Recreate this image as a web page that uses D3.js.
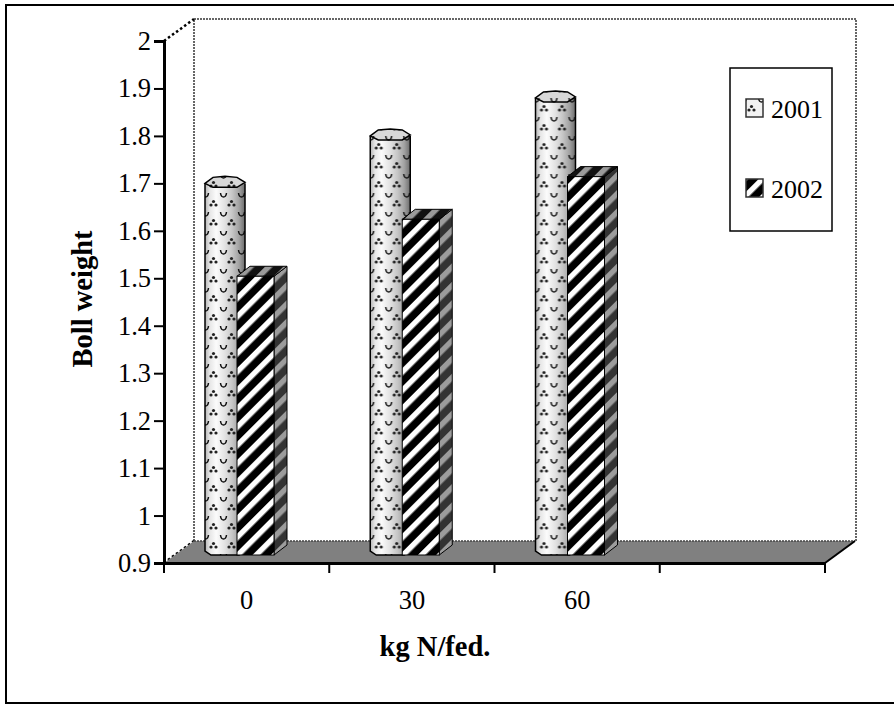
<!DOCTYPE html>
<html>
<head>
<meta charset="utf-8">
<script src="https://cdn.jsdelivr.net/npm/d3@7"></script>
<style>
  body { margin: 0; background: #fff; }
  svg { display: block; }
  text { font-family: "Liberation Serif", serif; fill: #000; }
</style>
</head>
<body>
<svg id="chart" width="894" height="704"></svg>
<script>
// Values
const categories = ["0", "30", "60", ""];
const years = ["2001", "2002"];
const values2001 = [1.70, 1.80, 1.88];
const values2002 = [1.50, 1.62, 1.71];
const yTicks = [0.9, 1, 1.1, 1.2, 1.3, 1.4, 1.5, 1.6, 1.7, 1.8, 1.9, 2];

const svg = d3.select("#chart");

// Plot box
const plotLeft = 164, plotRight = 825, plotTop = 41, plotBottom = 563;
const depthX = 30, depthY = 22;
const barLift = 8; // bars stand a little way back on the floor

const x = d3.scaleBand().domain(categories).range([plotLeft, plotRight]);
const xInner = d3.scaleBand().domain(years).range([41, 105]);
const y = d3.scaleLinear().domain([0.9, 2]).range([plotBottom, plotTop]);

const defs = svg.append("defs");

// Diagonal stripes for 2002
function stripes(id, dark, light, size) {
  const p = defs.append("pattern")
    .attr("id", id)
    .attr("patternUnits", "userSpaceOnUse")
    .attr("width", size)
    .attr("height", size)
    .attr("patternTransform", "rotate(45)");
  p.append("rect").attr("width", size).attr("height", size).attr("fill", dark);
  p.append("rect").attr("width", size * 0.42).attr("height", size).attr("fill", light);
}
stripes("stripeFront", "#000", "#fff", 13);
stripes("stripeTop", "#111", "#9a9a9a", 13);
stripes("stripeSide", "#333", "#9c9c9c", 13);

// Little marks for 2001: a cup shape and a three dot cluster
const dots = defs.append("pattern")
  .attr("id", "dots")
  .attr("patternUnits", "userSpaceOnUse")
  .attr("width", 18)
  .attr("height", 19);
dots.append("path")
  .attr("d", "M2.5,3 q0.5,4 3,4 q2.5,0 3,-4")
  .attr("fill", "none")
  .attr("stroke", "#111")
  .attr("stroke-width", 1.5);
[[13.5, 11.5], [11, 15], [16, 15]].forEach((c) => {
  dots.append("circle").attr("cx", c[0]).attr("cy", c[1]).attr("r", 1.6).attr("fill", "#222");
});

// Shading across the cylinder
const shade = defs.append("linearGradient").attr("id", "cylShade");
[[0, "#b5b5b5"], [0.12, "#e6e6e6"], [0.28, "#fbfbfb"], [0.5, "#e2e2e2"],
 [0.68, "#c6c6c6"], [0.85, "#a2a2a2"], [1, "#6c6c6c"]].forEach((s) => {
  shade.append("stop").attr("offset", s[0]).attr("stop-color", s[1]);
});

// Outer frame: the right side is cut off in the picture
svg.append("path")
  .attr("d", "M894,5H6V703H894")
  .attr("fill", "none")
  .attr("stroke", "#000")
  .attr("stroke-width", 2);

// Back wall
svg.append("path")
  .attr("d", `M${plotLeft + depthX},${plotBottom - depthY}V${plotTop - depthY}H${plotRight + depthX + 1}V${plotBottom - depthY}`)
  .attr("fill", "none")
  .attr("stroke", "#666")
  .attr("stroke-width", 2)
  .attr("stroke-dasharray", "2 1");

// Side wall edges
[plotTop, plotBottom].forEach((edgeY) => {
  svg.append("path")
    .attr("d", `M${plotLeft},${edgeY}L${plotLeft + depthX},${edgeY - depthY}`)
    .attr("fill", "none")
    .attr("stroke", "#000")
    .attr("stroke-width", 2.5)
    .attr("stroke-dasharray", "2.5 2.5");
});

// Floor
svg.append("path")
  .attr("d", `M${plotLeft},${plotBottom}L${plotLeft + depthX},${plotBottom - depthY}H${plotRight + depthX}L${plotRight},${plotBottom}Z`)
  .attr("fill", "#808080");
svg.append("path")
  .attr("d", `M${plotLeft + depthX},${plotBottom - depthY}H${plotRight + depthX}`)
  .attr("fill", "none")
  .attr("stroke", "#444")
  .attr("stroke-width", 1.5)
  .attr("stroke-dasharray", "2 1");
svg.append("path")
  .attr("d", `M${plotRight + depthX},${plotBottom - depthY}L${plotRight},${plotBottom}`)
  .attr("fill", "none")
  .attr("stroke", "#000")
  .attr("stroke-width", 2);

// Cylinder for one 2001 value
function drawCylinder(g, xPos, value, w) {
  const yBase = plotBottom - barLift;
  const yTop = y(value);
  const cx = xPos + w / 2;
  const body = `M${xPos},${yTop}V${yBase - 4}L${xPos + 6},${yBase}H${xPos + w - 6}L${xPos + w},${yBase - 4}V${yTop}`;
  const cap = `M${xPos},${yTop}L${xPos + 8},${yTop - 6}L${cx},${yTop - 7}L${xPos + w - 8},${yTop - 6}L${xPos + w},${yTop - 1}L${xPos + w - 8},${yTop + 4}H${xPos + 8}Z`;
  g.append("path").attr("d", body + "Z").attr("fill", "url(#cylShade)");
  g.append("path").attr("d", body + "Z").attr("fill", "url(#dots)");
  g.append("path").attr("d", body).attr("fill", "none").attr("stroke", "#000").attr("stroke-width", 1.5);
  g.append("path").attr("d", cap).attr("fill", "#d8d8d8");
  g.append("path").attr("d", cap).attr("fill", "url(#dots)");
  g.append("path").attr("d", cap).attr("fill", "none").attr("stroke", "#000").attr("stroke-width", 1.5);
}

// Box for one 2002 value
function drawBox(g, xPos, value, w) {
  const yBase = plotBottom - barLift;
  const yTop = y(value) - 2;
  const dx = 13, dy = 10;
  const side = `M${xPos + w},${yTop}l${dx},${-dy}V${yBase - dy}l${-dx},${dy}Z`;
  const topFace = `M${xPos},${yTop}l${dx},${-dy}H${xPos + w + dx}l${-dx},${dy}Z`;
  g.append("path").attr("d", side).attr("fill", "url(#stripeSide)").attr("stroke", "#000").attr("stroke-width", 1);
  g.append("path").attr("d", topFace).attr("fill", "url(#stripeTop)").attr("stroke", "#000").attr("stroke-width", 1);
  g.append("rect")
    .attr("x", xPos).attr("y", yTop)
    .attr("width", w).attr("height", yBase - yTop)
    .attr("fill", "url(#stripeFront)")
    .attr("stroke", "#000").attr("stroke-width", 1);
}

// Bars for the three nitrogen rates
categories.slice(0, 3).forEach((c, i) => {
  const g = svg.append("g").attr("transform", `translate(${x(c)},0)`);
  drawCylinder(g, xInner("2001"), values2001[i], xInner.bandwidth() + 8);
  drawBox(g, xInner("2002"), values2002[i], xInner.bandwidth() + 5);
});

// Axes
const yAxis = svg.append("g")
  .attr("transform", `translate(${plotLeft},0)`)
  .call(d3.axisLeft(y).tickValues(yTicks).tickSize(10).tickPadding(3).tickFormat((d) => String(d)));
const xAxis = svg.append("g")
  .attr("transform", `translate(0,${plotBottom})`)
  .call(d3.axisBottom(x).tickSize(0).tickPadding(27));

xAxis.selectAll(".tickMark")
  .data(d3.range(categories.length + 1))
  .enter()
  .append("line")
  .attr("x1", (d) => plotLeft + d * x.step())
  .attr("x2", (d) => plotLeft + d * x.step())
  .attr("y1", 0)
  .attr("y2", 10)
  .attr("stroke", "#000")
  .attr("stroke-width", 2);

[yAxis, xAxis].forEach((a) => {
  a.select(".domain").attr("stroke", "#000").attr("stroke-width", 3);
  a.selectAll(".tick line").attr("stroke", "#000").attr("stroke-width", 2);
  a.selectAll("text").style("font-family", '"Liberation Serif", serif').style("font-size", "26.5px").attr("fill", "#000");
});

// Axis titles
svg.append("text")
  .attr("transform", "translate(92,299) rotate(-90)")
  .attr("text-anchor", "middle")
  .attr("font-size", "28.5px")
  .attr("font-weight", "bold")
  .text("Boll weight");
svg.append("text")
  .attr("x", 435).attr("y", 656)
  .attr("text-anchor", "middle")
  .attr("font-size", "28.5px")
  .attr("font-weight", "bold")
  .text("kg N/fed.");

// Legend
svg.append("rect")
  .attr("x", 730).attr("y", 68)
  .attr("width", 102).attr("height", 163)
  .attr("fill", "#fff")
  .attr("stroke", "#000")
  .attr("stroke-width", 1.5);

const legendFill = ["url(#dots)", "url(#stripeFront)"];
years.forEach((yr, i) => {
  const ly = 108 + i * 80;
  if (i === 0) {
    svg.append("rect").attr("x", 746).attr("y", ly - 9).attr("width", 17).attr("height", 18).attr("fill", "#f2f2f2");
  }
  svg.append("rect")
    .attr("x", 746).attr("y", ly - 9)
    .attr("width", 17).attr("height", 18)
    .attr("fill", legendFill[i])
    .attr("stroke", "#333").attr("stroke-width", 1.5);
  svg.append("text")
    .attr("x", 771).attr("y", ly + 10)
    .attr("font-size", "26px")
    .text(yr);
});
</script>
</body>
</html>
